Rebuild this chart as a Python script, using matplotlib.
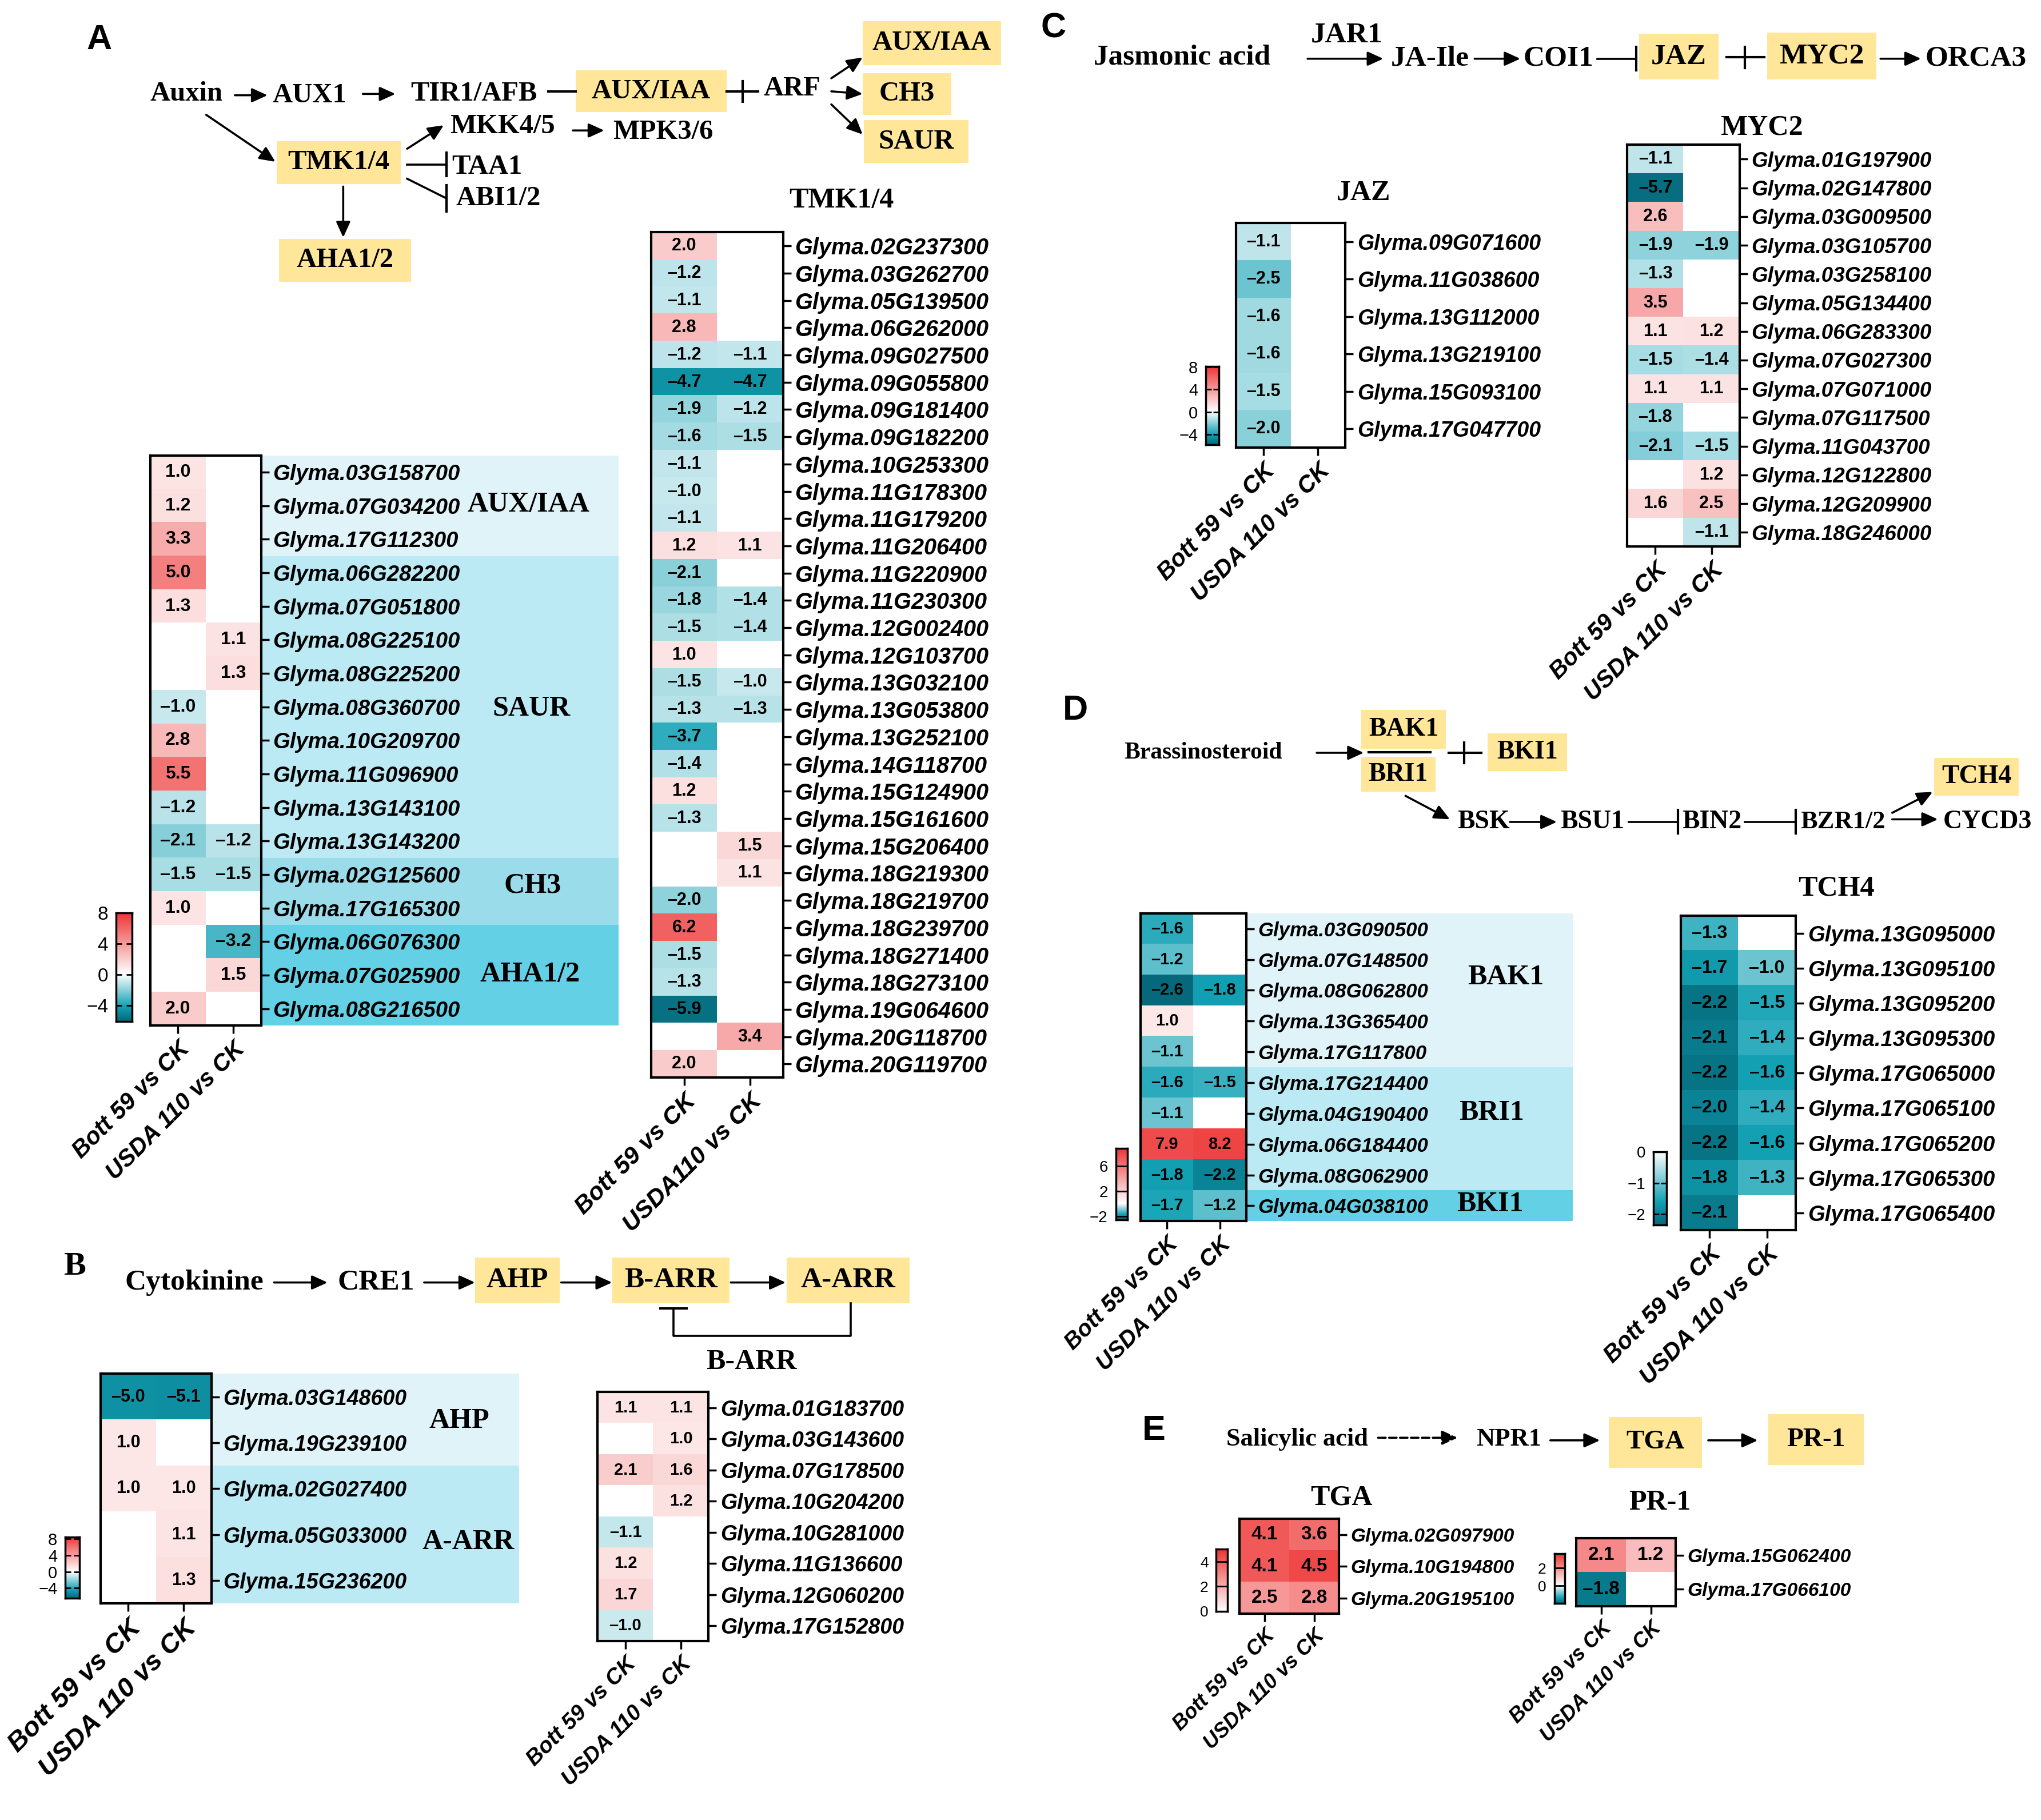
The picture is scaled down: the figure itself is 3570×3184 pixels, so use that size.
import numpy as np
import matplotlib
matplotlib.use("Agg")
import matplotlib.pyplot as plt
from matplotlib.colors import LinearSegmentedColormap, TwoSlopeNorm
from matplotlib.patches import Rectangle

nan = np.nan
SANS = "Liberation Sans"
SERIF = "Liberation Serif"
plt.rcParams["font.family"] = [SANS, "DejaVu Sans"]

# ------------------------------------------------------------------ data
cmp_labels = ["Bott 59 vs CK", "USDA 110 vs CK"]
cmp_labels_tmk = ["Bott 59 vs CK", "USDA110 vs CK"]

# A - auxin response genes (AUX/IAA, SAUR, CH3, AHA1/2)
aux_genes = ["03G158700", "07G034200", "17G112300", "06G282200", "07G051800",
             "08G225100", "08G225200", "08G360700", "10G209700", "11G096900",
             "13G143100", "13G143200", "02G125600", "17G165300", "06G076300",
             "07G025900", "08G216500"]
aux_bott = [1.0, 1.2, 3.3, 5.0, 1.3, nan, nan, -1.0, 2.8, 5.5, -1.2, -2.1, -1.5, 1.0, nan, nan, 2.0]
aux_usda = [nan, nan, nan, nan, nan, 1.1, 1.3, nan, nan, nan, nan, -1.2, -1.5, nan, -3.2, 1.5, nan]
aux_groups = ["AUX/IAA", "SAUR", "CH3", "AHA1/2"]
aux_group_rows = [3, 9, 2, 3]

# A - TMK1/4
tmk_genes = ["02G237300", "03G262700", "05G139500", "06G262000", "09G027500",
             "09G055800", "09G181400", "09G182200", "10G253300", "11G178300",
             "11G179200", "11G206400", "11G220900", "11G230300", "12G002400",
             "12G103700", "13G032100", "13G053800", "13G252100", "14G118700",
             "15G124900", "15G161600", "15G206400", "18G219300", "18G219700",
             "18G239700", "18G271400", "18G273100", "19G064600", "20G118700",
             "20G119700"]
tmk_bott = [2.0, -1.2, -1.1, 2.8, -1.2, -4.7, -1.9, -1.6, -1.1, -1.0, -1.1, 1.2, -2.1,
            -1.8, -1.5, 1.0, -1.5, -1.3, -3.7, -1.4, 1.2, -1.3, nan, nan, -2.0, 6.2,
            -1.5, -1.3, -5.9, nan, 2.0]
tmk_usda = [nan, nan, nan, nan, -1.1, -4.7, -1.2, -1.5, nan, nan, nan, 1.1, nan,
            -1.4, -1.4, nan, -1.0, -1.3, nan, nan, nan, nan, 1.5, 1.1, nan, nan,
            nan, nan, nan, 3.4, nan]

# B - cytokinin
ahp_genes = ["03G148600", "19G239100", "02G027400", "05G033000", "15G236200"]
ahp_bott = [-5.0, 1.0, 1.0, nan, nan]
ahp_usda = [-5.1, nan, 1.0, 1.1, 1.3]
ahp_groups = ["AHP", "A-ARR"]
ahp_group_rows = [2, 3]

barr_genes = ["01G183700", "03G143600", "07G178500", "10G204200",
              "10G281000", "11G136600", "12G060200", "17G152800"]
barr_bott = [1.1, nan, 2.1, nan, -1.1, 1.2, 1.7, -1.0]
barr_usda = [1.1, 1.0, 1.6, 1.2, nan, nan, nan, nan]

# C - jasmonic acid
jaz_genes = ["09G071600", "11G038600", "13G112000", "13G219100", "15G093100", "17G047700"]
jaz_bott = [-1.1, -2.5, -1.6, -1.6, -1.5, -2.0]
jaz_usda = [nan, nan, nan, nan, nan, nan]

myc_genes = ["01G197900", "02G147800", "03G009500", "03G105700", "03G258100",
             "05G134400", "06G283300", "07G027300", "07G071000", "07G117500",
             "11G043700", "12G122800", "12G209900", "18G246000"]
myc_bott = [-1.1, -5.7, 2.6, -1.9, -1.3, 3.5, 1.1, -1.5, 1.1, -1.8, -2.1, nan, 1.6, nan]
myc_usda = [nan, nan, nan, -1.9, nan, nan, 1.2, -1.4, 1.1, nan, -1.5, 1.2, 2.5, -1.1]

# D - brassinosteroid
bak_genes = ["03G090500", "07G148500", "08G062800", "13G365400", "17G117800",
             "17G214400", "04G190400", "06G184400", "08G062900", "04G038100"]
bak_bott = [-1.6, -1.2, -2.6, 1.0, -1.1, -1.6, -1.1, 7.9, -1.8, -1.7]
bak_usda = [nan, nan, -1.8, nan, nan, -1.5, nan, 8.2, -2.2, -1.2]
bak_groups = ["BAK1", "BRI1", "BKI1"]
bak_group_rows = [5, 4, 1]

tch_genes = ["13G095000", "13G095100", "13G095200", "13G095300", "17G065000",
             "17G065100", "17G065200", "17G065300", "17G065400"]
tch_bott = [-1.3, -1.7, -2.2, -2.1, -2.2, -2.0, -2.2, -1.8, -2.1]
tch_usda = [nan, -1.0, -1.5, -1.4, -1.6, -1.4, -1.6, -1.3, nan]

# E - salicylic acid
tga_genes = ["02G097900", "10G194800", "20G195100"]
tga_bott = [4.1, 4.1, 2.5]
tga_usda = [3.6, 4.5, 2.8]

pr1_genes = ["15G062400", "17G066100"]
pr1_bott = [2.1, -1.8]
pr1_usda = [1.2, nan]

# ------------------------------------------------------------------ styling
cmap = LinearSegmentedColormap.from_list(
    "teal_red", [(0.0, "#05697b"), (0.16, "#14a2b5"), (0.5, "#ffffff"), (1.0, "#ee3535")])
cmap.set_bad("white")
YELLOW = "#ffe699"
BAND = ["#dff3f8", "#bbe9f4", "#9adcea", "#63d0e5"]

W, H = 1564.0, 1395.0  # layout grid (reference scaled down)
fig = plt.figure(figsize=(35.7, 31.84), dpi=100)
ov = fig.add_axes([0, 0, 1, 1])
ov.set_xlim(0, W)
ov.set_ylim(H, 0)
ov.axis("off")


def frect(l, t, r, b):
    return [l / W, 1 - b / H, (r - l) / W, (b - t) / H]


def txt(x, y, s, fs=35, family=SERIF, weight="bold"):
    ov.text(x, y, s, fontsize=fs, family=family, fontweight=weight, ha="center", va="center")


def ybox(l, t, r, b, s, fs=35):
    ov.add_patch(Rectangle((l, t), r - l, b - t, facecolor=YELLOW, edgecolor="none"))
    txt((l + r) / 2, (t + b) / 2, s, fs)


def arrow(x1, y1, x2, y2, ls="-"):
    ov.annotate("", xy=(x2, y2), xytext=(x1, y1),
                arrowprops=dict(arrowstyle="-|>,head_length=0.55,head_width=0.25", color="k",
                                lw=2.6, linestyle=ls, shrinkA=0, shrinkB=0, mutation_scale=30))


def inhibit(x1, y1, x2, y2, bar=9):
    ov.plot([x1, x2], [y1, y2], color="k", lw=2.6)
    ov.plot([x2, x2], [y2 - bar, y2 + bar], color="k", lw=3)


def plus(x, y, x0, x1, hh):
    ov.plot([x0, x1], [y, y], color="k", lw=3)
    ov.plot([x, x], [y - hh, y + hh], color="k", lw=3)


def heatmap(box, genes, bott, usda, vmin, vmax, xlabels, gfs=26, xfs=30, vfs=22,
            cbox=None, cticks=(), cfs=22, title=None, title_xy=None,
            groups=None, group_rows=None, band_right=None, label_pos=None, band_colors=None):
    l, t, r, b = box
    ax = fig.add_axes(frect(*box))
    data = np.column_stack([bott, usda]).astype(float)
    norm = TwoSlopeNorm(vcenter=0.0, vmin=vmin, vmax=vmax)
    ax.imshow(np.ma.masked_invalid(data), cmap=cmap, norm=norm, aspect="auto",
              interpolation="nearest")
    for (i, j), v in np.ndenumerate(data):
        if not np.isnan(v):
            ax.text(j, i, f"{v:.1f}".replace("-", "\u2013"), ha="center", va="center",
                    fontsize=vfs, fontweight="bold")
    ax.set_yticks(range(len(genes)))
    ax.set_yticklabels(["Glyma." + g for g in genes], fontsize=gfs,
                       fontstyle="italic", fontweight="bold")
    ax.yaxis.tick_right()
    ax.set_xticks([0, 1])
    ax.set_xticklabels(xlabels, rotation=45, ha="right", va="top", rotation_mode="anchor",
                       fontsize=xfs, fontstyle="italic", fontweight="bold")
    ax.tick_params(length=10, width=2.5, pad=5)
    for s in ax.spines.values():
        s.set_linewidth(3)
    if title:
        txt(title_xy[0], title_xy[1], title, 36)
    if groups:
        rh = (b - t) / len(genes)
        y = t
        for name, n, col, (lx, ly) in zip(groups, group_rows, band_colors, label_pos):
            ov.add_patch(Rectangle((r, y), band_right - r, n * rh, facecolor=col,
                                   edgecolor="none"))
            txt(lx, ly, name, 36)
            y += n * rh
    if cbox:
        cax = fig.add_axes(frect(*cbox))
        grad = np.linspace(vmin, vmax, 256).reshape(-1, 1)
        cax.imshow(grad, cmap=cmap, norm=norm, aspect="auto", origin="lower",
                   extent=[0, 1, vmin, vmax])
        cax.set_xticks([])
        cax.set_yticks(cticks)
        cax.tick_params(axis="y", direction="in", length=7, width=2, labelsize=cfs,
                        left=True, right=True, pad=10)
        for s in cax.spines.values():
            s.set_linewidth(2.5)
    return ax


# ------------------------------------------------------------------ panel A
ov.text(76, 31, "A", fontsize=44, fontweight="bold", family=SANS, ha="center", va="center")
txt(143, 72, "Auxin")
arrow(180, 73, 205, 73)
txt(237, 73, "AUX1")
arrow(278, 72, 303, 72)
txt(363, 72, "TIR1/AFB")
ov.plot([420, 441], [70, 70], color="k", lw=3)
ybox(441, 54, 557, 86, "AUX/IAA")
plus(569, 70, 557, 581, 8)
txt(607, 68, "ARF")
arrow(637, 60, 661, 44)
arrow(637, 70, 661, 72)
arrow(637, 80, 661, 103)
ybox(661, 16, 767, 50, "AUX/IAA")
ybox(661, 56, 729, 88, "CH3")
ybox(662, 92, 742, 125, "SAUR")
arrow(158, 88, 211, 124)
ybox(212, 108, 307, 141, "TMK1/4")
arrow(312, 114, 340, 96)
txt(385, 97, "MKK4/5")
arrow(439, 100, 463, 100)
txt(508, 101, "MPK3/6")
inhibit(312, 126, 342, 126)
txt(373, 128, "TAA1")
inhibit(312, 137, 342, 152, bar=10)
txt(382, 152, "ABI1/2")
arrow(263, 143, 263, 182)
ybox(214, 183, 315, 216, "AHA1/2")

heatmap((115, 349, 200, 786), aux_genes, aux_bott, aux_usda, -6.1, 8.0, cmp_labels,
        gfs=27.5, xfs=30, vfs=23, cbox=(89, 699.5, 101, 783), cticks=[8, 4, 0, -4], cfs=24,
        groups=aux_groups, group_rows=aux_group_rows, band_right=474,
        label_pos=[(405, 387), (407, 543), (408, 679), (406, 747)], band_colors=BAND)
heatmap((499, 178, 600, 826), tmk_genes, tmk_bott, tmk_usda, -6.2, 8.0, cmp_labels_tmk,
        gfs=28.5, xfs=31, vfs=22, title="TMK1/4", title_xy=(645, 154))

# ------------------------------------------------------------------ panel B
txt(57, 971, "B", 42)
txt(149, 983, "Cytokinine", 37)
arrow(210, 983, 251, 983)
txt(288, 983, "CRE1", 37)
arrow(325, 983, 364, 983)
ybox(364, 964, 429, 999, "AHP", 37)
arrow(430, 983, 469, 983)
ybox(469, 964, 559, 999, "B-ARR", 37)
arrow(560, 983, 602, 983)
ybox(603, 964, 697, 999, "A-ARR", 37)
ov.plot([652, 652, 516, 516], [999, 1024, 1024, 1003], color="k", lw=2.6)
ov.plot([506, 526], [1003, 1003], color="k", lw=3)

heatmap((77, 1053, 162, 1229), ahp_genes, ahp_bott, ahp_usda, -6.5, 8.5, cmp_labels,
        gfs=27, xfs=34, vfs=22, cbox=(50, 1178, 61, 1225), cticks=[8, 4, 0, -4], cfs=21,
        groups=ahp_groups, group_rows=ahp_group_rows, band_right=398,
        label_pos=[(352, 1089), (359, 1182)], band_colors=BAND[:2])
heatmap((458, 1067, 543, 1258), barr_genes, barr_bott, barr_usda, -6.5, 8.5, cmp_labels,
        gfs=27, xfs=28, vfs=21, title="B-ARR", title_xy=(576, 1044))

# ------------------------------------------------------------------ panel C
ov.text(807, 22, "C", fontsize=44, fontweight="bold", family=SANS, ha="center", va="center")
txt(906, 44, "Jasmonic acid", 37)
txt(1032, 27, "JAR1", 37)
arrow(1002, 45, 1060, 45)
txt(1096, 45, "JA-Ile", 37)
arrow(1130, 45, 1165, 45)
txt(1194, 45, "COI1", 37)
inhibit(1224, 45, 1254, 45)
ybox(1256, 26, 1317, 61, "JAZ", 37)
plus(1337, 44, 1323, 1352, 8)
ybox(1354, 25, 1438, 61, "MYC2", 37)
arrow(1441, 45, 1472, 45)
txt(1514, 45, "ORCA3", 37)

heatmap((947, 171, 1031, 343), jaz_genes, jaz_bott, jaz_usda, -5.9, 8.1, cmp_labels,
        gfs=27, xfs=30, vfs=22, cbox=(924, 281, 934, 341), cticks=[8, 4, 0, -4], cfs=21,
        title="JAZ", title_xy=(1045, 148))
heatmap((1247, 111, 1333, 419), myc_genes, myc_bott, myc_usda, -5.9, 8.1, cmp_labels,
        gfs=26.5, xfs=30, vfs=22, title="MYC2", title_xy=(1350, 98))

# ------------------------------------------------------------------ panel D
ov.text(824, 545, "D", fontsize=44, fontweight="bold", family=SANS, ha="center", va="center")
txt(922, 577, "Brassinosteroid", 30)
arrow(1009, 577, 1045, 577)
ybox(1043, 544, 1108, 574, "BAK1", 33)
ybox(1043, 580, 1100, 607, "BRI1", 33)
ov.plot([1049, 1096], [576.5, 576.5], color="k", lw=3)
plus(1122, 577, 1110, 1135, 8)
ybox(1140, 562, 1201, 591, "BKI1", 33)
arrow(1077, 610, 1111, 628)
txt(1137, 630, "BSK", 33)
arrow(1157, 630, 1193, 630)
txt(1220, 630, "BSU1", 33)
inhibit(1248, 630, 1286, 630)
txt(1312, 630, "BIN2", 33)
inhibit(1337, 630, 1376, 630)
txt(1412, 630, "BZR1/2", 32)
arrow(1450, 623, 1481, 607)
arrow(1450, 628, 1485, 628)
txt(1523, 630, "CYCD3", 33)
ybox(1482, 581, 1547, 610, "TCH4", 33)

heatmap((874, 700, 955, 936), bak_genes, bak_bott, bak_usda, -2.6, 8.9, cmp_labels,
        gfs=25, xfs=29, vfs=21, cbox=(855, 880, 864, 935), cticks=[6, 2, -2], cfs=20,
        groups=bak_groups, group_rows=bak_group_rows, band_right=1205,
        label_pos=[(1154, 749), (1143, 853), (1142, 923)],
        band_colors=[BAND[0], BAND[1], BAND[3]])
heatmap((1288, 702, 1376, 943), tch_genes, tch_bott, tch_usda, -2.35, 0.001, cmp_labels,
        gfs=27.5, xfs=30, vfs=23, cbox=(1267, 883, 1277, 939), cticks=[0, -1, -2], cfs=20,
        title="TCH4", title_xy=(1407, 681))

# ------------------------------------------------------------------ panel E
ov.text(884, 1097, "E", fontsize=44, fontweight="bold", family=SANS, ha="center", va="center")
txt(994, 1103, "Salicylic acid", 32)
arrow(1056, 1102, 1117, 1102, ls="--")
txt(1156, 1103, "NPR1", 32)
arrow(1188, 1104, 1226, 1104)
ybox(1233, 1086, 1304, 1125, "TGA", 34)
arrow(1309, 1104, 1347, 1104)
ybox(1355, 1084, 1428, 1123, "PR-1", 34)

heatmap((950, 1164, 1026, 1237), tga_genes, tga_bott, tga_usda, -0.001, 5.0, cmp_labels,
        gfs=24, xfs=26, vfs=24, cbox=(932, 1187.5, 940.5, 1235), cticks=[4, 2, 0], cfs=19,
        title="TGA", title_xy=(1028, 1148))
heatmap((1208, 1179, 1284, 1231), pr1_genes, pr1_bott, pr1_usda, -2.0, 3.6, cmp_labels,
        gfs=24, xfs=26, vfs=24, cbox=(1191, 1191, 1199, 1229), cticks=[2, 0], cfs=19,
        title="PR-1", title_xy=(1272, 1152))

fig.savefig("out.png", dpi=100)
